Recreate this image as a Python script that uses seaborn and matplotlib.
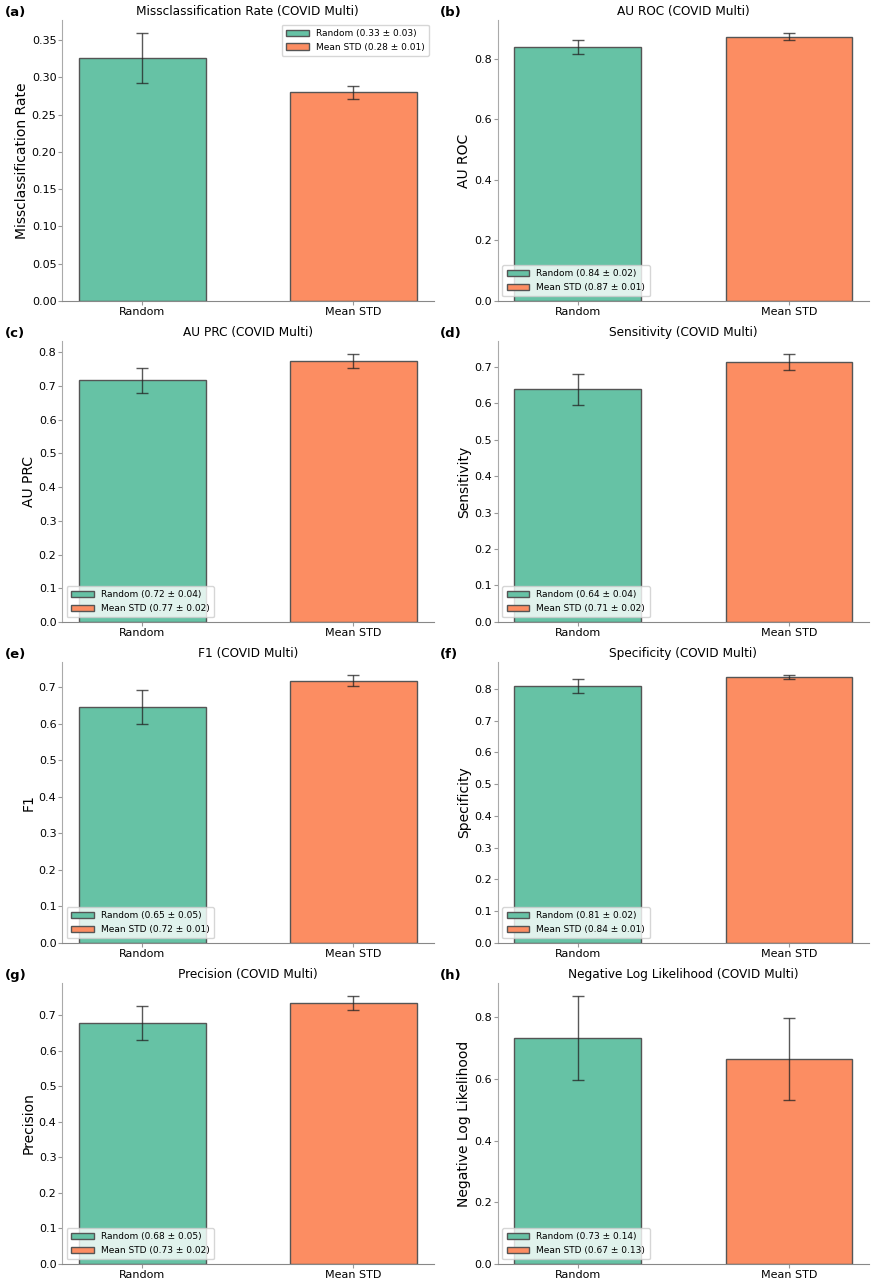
import matplotlib
matplotlib.use("Agg")
import matplotlib.pyplot as plt
import seaborn as sns
import pandas as pd
import numpy as np

methods = ["Random", "Mean STD"]
titles = ["Missclassification Rate", "AU ROC", "AU PRC", "Sensitivity",
          "F1", "Specificity", "Precision", "Negative Log Likelihood"]
panel_letters = ["(a)", "(b)", "(c)", "(d)", "(e)", "(f)", "(g)", "(h)"]
random_mean = [0.326, 0.838, 0.717, 0.638, 0.646, 0.808, 0.677, 0.732]
random_std = [0.033, 0.023, 0.038, 0.042, 0.046, 0.022, 0.047, 0.136]
meanstd_mean = [0.280, 0.872, 0.774, 0.712, 0.718, 0.836, 0.733, 0.666]
meanstd_std = [0.009, 0.011, 0.020, 0.022, 0.014, 0.006, 0.019, 0.133]
legend_locs = ["upper right", "lower left", "lower left", "lower left",
               "lower left", "lower left", "lower left", "lower left"]

plt.rcParams['font.family'] = ['DejaVu Sans']
colors = sns.color_palette("Set2", 2)

fig, axes = plt.subplots(4, 2, figsize=(8.77, 12.84), dpi=100)
fig.subplots_adjust(left=0.0707, right=0.991, top=0.9844, bottom=0.0156,
                    wspace=0.172, hspace=0.143)

for i, ax in enumerate(axes.flat):
    means = [random_mean[i], meanstd_mean[i]]
    stds = [random_std[i], meanstd_std[i]]
    labels = [f"{m} ({mu:.2f} ± {sd:.2f})" for m, mu, sd in zip(methods, means, stds)]
    df = pd.DataFrame({"method": methods, "value": means, "label": labels})
    sns.barplot(data=df, x="method", y="value", hue="label", palette=colors,
                width=0.6, dodge=False, edgecolor="#555555", linewidth=1.0,
                errorbar=None, saturation=1, ax=ax)
    ax.errorbar([0, 1], means, yerr=stds, fmt="none", ecolor="#222222",
                elinewidth=1.0, capsize=4, capthick=1.0, alpha=0.75)
    ax.set_xlim(-0.38, 1.38)
    ax.relim()
    ax.autoscale_view()
    ax.set_ylim(bottom=0)
    ax.set_title(f"{titles[i]} (COVID Multi)", fontsize=8.7, pad=3.5)
    ax.set_ylabel(titles[i], fontsize=10, labelpad=2)
    ax.set_xlabel("")
    ax.tick_params(axis="both", labelsize=8, length=3, color="#999999")
    ax.tick_params(axis="x", pad=1.5)
    ax.tick_params(axis="y", pad=1)
    sns.despine(ax=ax)
    ax.spines["left"].set_color("#aaaaaa")
    ax.spines["bottom"].set_color("#888888")
    ax.legend(loc=legend_locs[i], fontsize=6.5, frameon=True,
              handlelength=2.5, borderpad=0.5)
    ax.text(-0.154, 1.005, panel_letters[i], transform=ax.transAxes,
            fontsize=9.5, fontweight="bold", va="bottom", ha="left")

fig.savefig("out.png", dpi=100)
